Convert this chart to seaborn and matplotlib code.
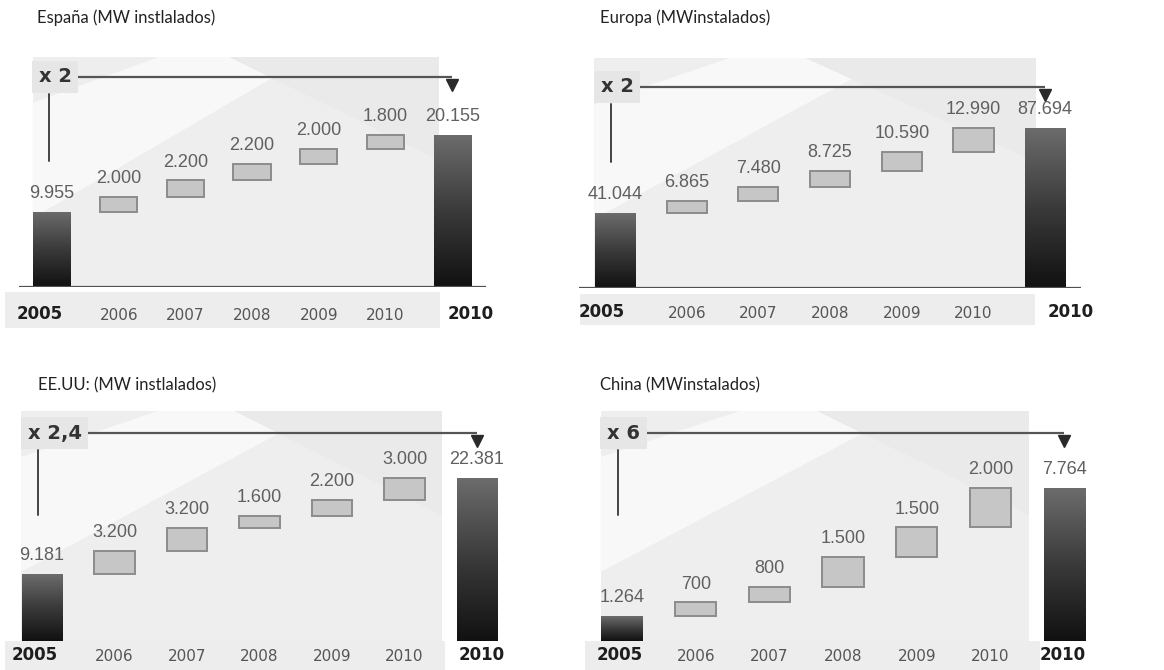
import numpy as np
import pandas as pd
import matplotlib
matplotlib.use("Agg")
import matplotlib.pyplot as plt
import seaborn as sns
from matplotlib.patches import Rectangle, Polygon
from matplotlib.colors import LinearSegmentedColormap
from matplotlib.transforms import ScaledTranslation, blended_transform_factory

# ---- data (MW instalados) ----
years = ["2005", "2006", "2007", "2008", "2009", "2010", "2010"]

espana_2005 = 9955
espana_incrementos = [2000, 2200, 2200, 2000, 1800]
espana_2010 = 20155

europa_2005 = 41044
europa_incrementos = [6865, 7480, 8725, 10590, 12990]
europa_2010 = 87694

eeuu_2005 = 9181
eeuu_incrementos = [3200, 3200, 1600, 2200, 3000]
eeuu_2010 = 22381

china_2005 = 1264
china_incrementos = [700, 800, 1500, 1500, 2000]
china_2010 = 7764

titulos = ["España (MW instlalados)", "Europa (MWinstalados)",
           "EE.UU: (MW instlalados)", "China (MWinstalados)"]
multiplicadores = ["x 2", "x 2", "x 2,4", "x 6"]

# ---- figure ----
W, H = 1164, 670
sns.set_theme(style="white")
plt.rcParams["font.family"] = ["DejaVu Sans"]
fig = plt.figure(figsize=(W / 100, H / 100), dpi=100)
fig.patch.set_facecolor("white")

bar_cmap = LinearSegmentedColormap.from_list("barra", ["#111111", "#3a3a3a", "#6c6c6c"])
AX_H = 230  # axes height in px above the baseline


def fmt(v):
    return f"{v:,}".replace(",", ".")


def panel(title, multiplier, start, steps, total, cx0, dx, base_y, total_px,
          arrow_px, title_xy, label_pad, band, bold_dx, baseline, box_right):
    left_px = cx0 - 0.5 * dx
    ax = fig.add_axes([left_px / W, 1 - base_y / H, 7 * dx / W, AX_H / H])
    ax.set_facecolor("none")
    ymax = total * AX_H / total_px

    # waterfall data
    heights = [start] + list(steps) + [total]
    cum = np.cumsum([start] + list(steps))
    bottoms = [0] + list(cum[:-1]) + [0]
    cats = [f"c{i}" for i in range(len(heights))]
    df = pd.DataFrame({"cat": cats, "valor": heights})
    sns.barplot(data=df, x="cat", y="valor", order=cats, width=0.56, color="#c4c4c4",
                saturation=1, errorbar=None, ax=ax, zorder=2)
    bars = list(ax.containers[0])

    grad = np.linspace(0, 1, 256).reshape(-1, 1)
    for i, p in enumerate(bars):
        p.set_y(bottoms[i])
        p.set_height(heights[i])
        top = bottoms[i] + heights[i]
        if i in (0, len(heights) - 1):
            p.set_facecolor("none")
            p.set_edgecolor("none")
            x0 = p.get_x()
            im = ax.imshow(grad, extent=[x0, x0 + p.get_width(), 0, heights[i]],
                           origin="lower", cmap=bar_cmap, aspect="auto", zorder=2)
            im.set_clip_path(p)
        else:
            p.set_facecolor("#c6c6c6")
            p.set_edgecolor("#8c8c8c")
            p.set_linewidth(1.4)
        ax.annotate(fmt(heights[i]), (i, top), xytext=(0, 7), textcoords="offset points",
                    ha="center", va="bottom", fontsize=13, color="#606060",
                    family=["Liberation Sans", "DejaVu Sans"], zorder=4)

    # decorative backdrop
    ax.add_patch(Rectangle((0.03, 0), box_right - 0.03, 1.0, transform=ax.transAxes,
                           fc="#eeeeee", ec="none", zorder=0, clip_on=False))
    ax.add_patch(Polygon([(0.03, 0.30), (0.03, 0.80), (0.30, 1.0), (0.62, 1.0)],
                         closed=True, transform=ax.transAxes, fc="#f8f8f8",
                         ec="none", zorder=0.1, clip_on=False))
    ax.add_patch(Polygon([(0.45, 1.0), (box_right, 1.0), (box_right, 0.55)],
                         closed=True, transform=ax.transAxes, fc="#eaeaea",
                         ec="none", zorder=0.1, clip_on=False))
    bx0 = (band[0] - left_px) / (7 * dx)
    bx1 = (band[1] - left_px) / (7 * dx)
    ax.add_patch(Rectangle((bx0, -band[3] / AX_H), bx1 - bx0, (band[3] - band[2]) / AX_H,
                           transform=ax.transAxes, fc="#ededed", ec="none",
                           zorder=0, clip_on=False))

    ax.set_xlim(-0.5, 6.5)
    ax.set_ylim(0, ymax)
    ax.set_yticks([])
    ax.set_ylabel("")
    ax.set_xlabel("")
    for s in ax.spines.values():
        s.set_visible(False)
    if baseline:
        ax.axhline(0, color="#505050", lw=1.6, zorder=3)

    # year labels
    ax.set_xticks(range(7))
    ax.set_xticklabels(years)
    ax.tick_params(axis="x", length=0, pad=label_pad, labelsize=11, labelcolor="#555555")
    labels = ax.get_xticklabels()
    for idx, off in ((0, bold_dx[0]), (6, bold_dx[1])):
        lab = labels[idx]
        lab.set_fontweight("bold")
        lab.set_fontsize(12)
        lab.set_color("#1e1e1e")
        lab.set_transform(lab.get_transform() + ScaledTranslation(off / 100, 3 / 100,
                                                                   fig.dpi_scale_trans))

    # growth arrow and multiplier tag
    tr = blended_transform_factory(ax.transData, ax.transAxes)
    ya = arrow_px / AX_H
    ax.plot([0, 6], [ya, ya], transform=tr, color="#555555", lw=1.6, zorder=3,
            clip_on=False, solid_capstyle="butt")
    ax.plot([6], [ya - 0.035], transform=tr, marker="v", color="#2a2a2a",
            markersize=8, clip_on=False, zorder=3)
    ax.plot([-0.05, -0.05], [(arrow_px - 17) / AX_H, 126 / AX_H], transform=tr,
            color="#444444", lw=1.4, clip_on=False, zorder=3)
    ax.text(-0.2, ya, multiplier, transform=tr, ha="left", va="center", fontsize=14,
            fontweight="bold", color="#333333", zorder=5,
            bbox=dict(boxstyle="square,pad=0.35", fc="#e6e6e6", ec="none"))

    fig.text(title_xy[0] / W, 1 - title_xy[1] / H, title, ha="left", va="center",
             fontsize=12, color="#222222", family=["Lato", "DejaVu Sans"])
    return ax


panel(titulos[0], multiplicadores[0], espana_2005, espana_incrementos, espana_2010,
      cx0=52, dx=66.7, base_y=287, total_px=152, arrow_px=210, title_xy=(37, 18),
      label_pad=15, band=(5, 440, 5, 41), bold_dx=(-12, 18), baseline=True, box_right=0.90)
panel(titulos[1], multiplicadores[1], europa_2005, europa_incrementos, europa_2010,
      cx0=615, dx=71.7, base_y=288, total_px=160, arrow_px=201, title_xy=(600, 18),
      label_pad=13, band=(580, 1035, 6, 37), bold_dx=(-13, 25), baseline=True, box_right=0.91)
panel(titulos[2], multiplicadores[2], eeuu_2005, eeuu_incrementos, eeuu_2010,
      cx0=42, dx=72.5, base_y=641, total_px=163, arrow_px=208, title_xy=(38, 385),
      label_pad=6, band=(5, 445, 0, 29), bold_dx=(-7, 5), baseline=False, box_right=0.86)
panel(titulos[3], multiplicadores[3], china_2005, china_incrementos, china_2010,
      cx0=622, dx=73.7, base_y=641, total_px=153, arrow_px=208, title_xy=(600, 385),
      label_pad=6, band=(585, 1040, 0, 29), bold_dx=(-2, -2), baseline=False, box_right=0.86)

fig.savefig("out.png", dpi=100, facecolor="white")
